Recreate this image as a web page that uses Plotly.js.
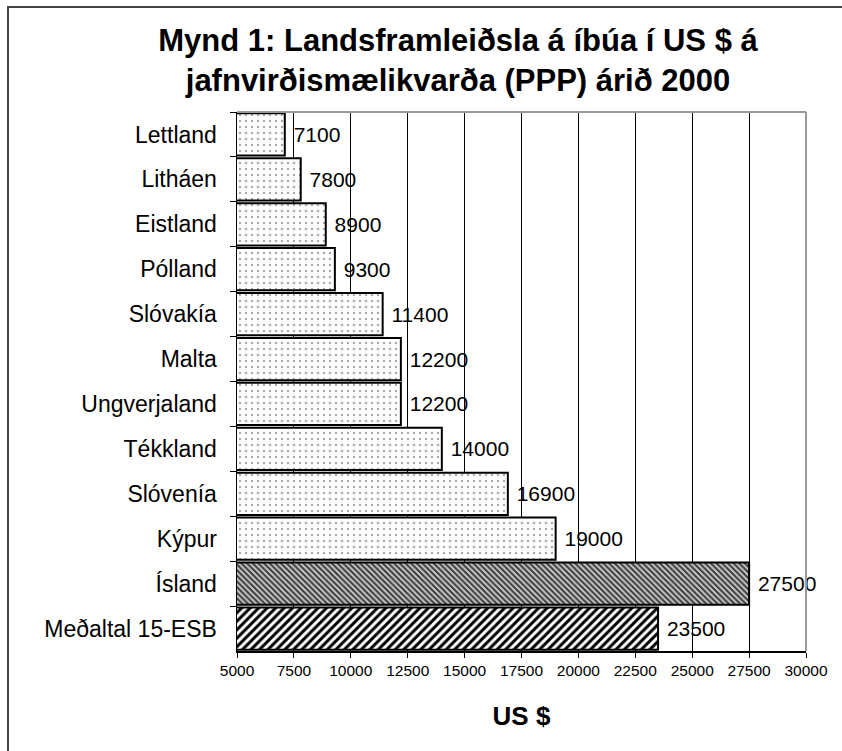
<!DOCTYPE html>
<html>
<head>
<meta charset="utf-8">
<script src="https://cdn.plot.ly/plotly-3.0.1.min.js"></script>
<style>html,body{margin:0;padding:0;background:#fff;}#chart{width:842px;height:751px;}</style>
</head>
<body>
<div id="chart"></div>
<script>
const countries = ["Lettland","Litháen","Eistland","Pólland","Slóvakía","Malta","Ungverjaland","Tékkland","Slóvenía","Kýpur","Ísland","Meðaltal 15-ESB"];
const gdpPerCapita = [7100,7800,8900,9300,11400,12200,12200,14000,16900,19000,27500,23500];
const xTicks = [5000,7500,10000,12500,15000,17500,20000,22500,25000,27500,30000];

const shapes = countries.map(c => c === "Ísland" ? "\\" : (c === "Meðaltal 15-ESB" ? "/" : "."));
const fg = countries.map(c => c === "Ísland" ? "#3a3a3a" : (c === "Meðaltal 15-ESB" ? "#000000" : "#a8a8a8"));
const bg = countries.map(c => c === "Ísland" ? "#c8c8c8" : "#ffffff");
const psize = countries.map(c => c === "Ísland" ? 4 : (c === "Meðaltal 15-ESB" ? 6 : 6));
const psol = countries.map(c => c === "Ísland" ? 0.5 : (c === "Meðaltal 15-ESB" ? 0.5 : 0.12));

const font = "Liberation Sans, Arial, sans-serif";

const trace = {
  type: "bar",
  orientation: "h",
  y: countries,
  x: gdpPerCapita,
  text: gdpPerCapita.map(String),
  marker: {
    color: "#ffffff",
    line: {color: "#000000", width: 2},
    pattern: {shape: shapes, fgcolor: fg, bgcolor: bg, size: psize, solidity: psol, fillmode: "replace"}
  },
  texttemplate: "\u00a0%{text}",
  textposition: "outside",
  textfont: {family: font, size: 21, color: "#000"},
  constraintext: "none",
  cliponaxis: false,
  hoverinfo: "skip"
};

const layout = {
  width: 842, height: 751,
  margin: {l: 237, r: 36, t: 112, b: 100},
  paper_bgcolor: "#ffffff",
  plot_bgcolor: "#ffffff",
  showlegend: false,
  bargap: 0.06,
  title: {
    text: "<b>Mynd 1: Landsframleiðsla á íbúa í US $ á<br>jafnvirðismælikvarða (PPP) árið 2000</b>",
    font: {family: font, size: 31, color: "#000"},
    x: 458/842, xanchor: "center", xref: "container",
    y: 1 - 51/751, yanchor: "top", yref: "container"
  },
  xaxis: {
    range: [5000, 30000],
    tickvals: xTicks,
    ticktext: xTicks.map(String),
    showgrid: true, gridcolor: "#000000", gridwidth: 1,
    showline: true, linecolor: "#000000", linewidth: 1.5,
    ticks: "outside", ticklen: 5, tickcolor: "#000000",
    tickfont: {family: font, size: 15.5, color: "#000"},
    zeroline: false,
    fixedrange: true,
    title: {text: "<b>US $</b>", font: {family: font, size: 26, color: "#000"}, standoff: 28}
  },
  yaxis: {
    type: "category",
    autorange: "reversed",
    showgrid: false,
    showline: true, linecolor: "#000000", linewidth: 1.5,
    ticks: "outside", ticklen: 6, tickcolor: "#000000",
    tickson: "boundaries",
    ticklabelstandoff: 14,
    tickfont: {family: font, size: 23, color: "#000"},
    fixedrange: true
  },
  shapes: [
    {type: "line", xref: "paper", yref: "paper", x0: 0, x1: 1, y0: 1, y1: 1, line: {color: "#999999", width: 2}, layer: "above"},
    {type: "line", xref: "paper", yref: "paper", x0: 1, x1: 1, y0: 0, y1: 1, line: {color: "#999999", width: 2}, layer: "above"},
    {type: "rect", xref: "paper", yref: "paper", x0: (8-237)/569, x1: 1.2, y0: -0.3, y1: (651-7)/539, line: {color: "#444444", width: 2}, fillcolor: "rgba(0,0,0,0)", layer: "above"}
  ]
};

Plotly.newPlot("chart", [trace], layout, {displayModeBar: false, staticPlot: true});
</script>
</body>
</html>
